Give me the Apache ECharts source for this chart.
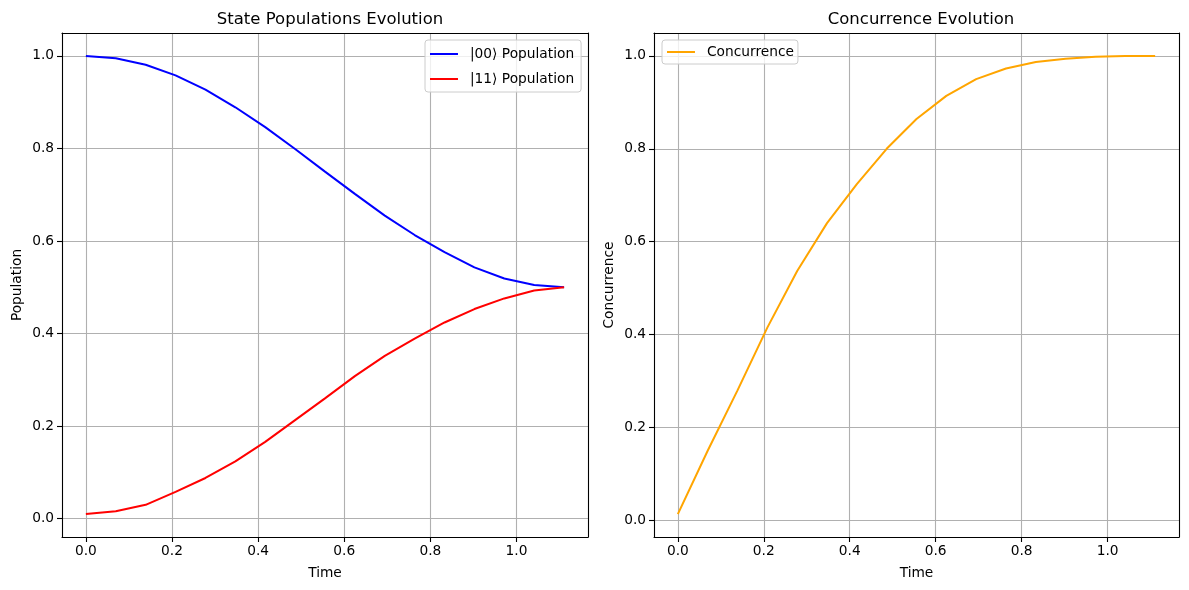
<!DOCTYPE html>
<html>
<head>
<meta charset="utf-8">
<script src="https://cdn.jsdelivr.net/npm/echarts@6/dist/echarts.min.js"></script>
<style>
html,body{margin:0;padding:0;background:#fff;}
#chart{width:1189px;height:590px;}
</style>
</head>
<body>
<div id="chart"></div>
<script>
// ---- data ----
const times = [0, 0.0694, 0.1388, 0.2082, 0.2777, 0.3471, 0.4165, 0.4859, 0.5553, 0.6247, 0.6942, 0.7636, 0.8330, 0.9024, 0.9718, 1.0412, 1.1107];
const pop00 = [1.000, 0.995, 0.981, 0.958, 0.927, 0.889, 0.846, 0.799, 0.750, 0.702, 0.655, 0.613, 0.576, 0.543, 0.519, 0.505, 0.500];
const pop11 = [0.010, 0.016, 0.030, 0.058, 0.088, 0.124, 0.166, 0.213, 0.260, 0.308, 0.352, 0.389, 0.424, 0.453, 0.476, 0.493, 0.500];
const concurrence = [0.0135, 0.150, 0.280, 0.415, 0.537, 0.640, 0.724, 0.800, 0.864, 0.914, 0.950, 0.973, 0.987, 0.994, 0.998, 1.000, 1.000];
const tickValues = [0.0, 0.2, 0.4, 0.6, 0.8, 1.0];
const tickLabels = ['0.0', '0.2', '0.4', '0.6', '0.8', '1.0'];

const FONT = 'DejaVu Sans';
const pair = (xs, ys) => xs.map((x, i) => [x, ys[i]]);
const labelFmt = v => {
  const i = tickValues.findIndex(t => Math.abs(t - v) < 1e-9);
  return i >= 0 ? tickLabels[i] : '';
};

function xAxis(idx) {
  return {
    type: 'value', gridIndex: idx, min: -0.0555, max: 1.1662,
    name: 'Time', nameLocation: 'middle', nameGap: 29,
    nameTextStyle: {fontFamily: FONT, fontSize: 13.75, color: '#000'},
    axisLine: {show: true, onZero: false, lineStyle: {color: '#000', width: 1.1}},
    axisTick: {show: true, length: 5, lineStyle: {color: '#000', width: 1.1}, customValues: tickValues},
    axisLabel: {show: true, margin: 7, fontFamily: FONT, fontSize: 13.75, color: '#000', customValues: tickValues, formatter: labelFmt},
    splitLine: {show: true, lineStyle: {color: '#b0b0b0', width: 1.1}, customValues: tickValues}
  };
}
function yAxis(idx, name, min, max) {
  return {
    type: 'value', gridIndex: idx, min: min, max: max,
    name: name, nameLocation: 'middle', nameGap: 38,
    nameTextStyle: {fontFamily: FONT, fontSize: 13.75, color: '#000'},
    axisLine: {show: true, onZero: false, lineStyle: {color: '#000', width: 1.1}},
    axisTick: {show: true, length: 5, lineStyle: {color: '#000', width: 1.1}, customValues: tickValues},
    axisLabel: {show: true, margin: 8, fontFamily: FONT, fontSize: 13.75, color: '#000', customValues: tickValues, formatter: labelFmt},
    splitLine: {show: true, lineStyle: {color: '#b0b0b0', width: 1.1}, customValues: tickValues}
  };
}
// top/right spines via second (empty) axes
function spineX(idx) {
  return {type: 'value', gridIndex: idx, position: 'top', min: 0, max: 1,
    axisLine: {show: true, onZero: false, lineStyle: {color: '#000', width: 1.1}}, axisTick: {show: false}, axisLabel: {show: false}, splitLine: {show: false}};
}
function spineY(idx) {
  return {type: 'value', gridIndex: idx, position: 'right', min: 0, max: 1,
    axisLine: {show: true, onZero: false, lineStyle: {color: '#000', width: 1.1}}, axisTick: {show: false}, axisLabel: {show: false}, splitLine: {show: false}};
}

// line-only legend icon (degenerate subpaths keep the bounding box 28x14)
const LINE_ICON = 'path://M0,0L28,0L28,0.01L0,0.01Z M0,6L28,6L28,8L0,8Z M0,14L28,14L28,14.01L0,14.01Z';

const legendCommon = {
  orient: 'vertical',
  backgroundColor: 'rgba(255,255,255,0.8)',
  borderColor: '#cccccc', borderWidth: 1, borderRadius: 3,
  itemWidth: 28, itemHeight: 14, itemGap: 11,
  icon: LINE_ICON,
  textStyle: {fontFamily: FONT, fontSize: 13.75, color: '#000', padding: [0, 0, 0, 7]}
};

const chart = echarts.init(document.getElementById('chart'), null, {renderer: 'canvas'});
chart.setOption({
  backgroundColor: '#fff',
  animation: false,
  title: [
    {text: 'State Populations Evolution', left: 325, top: 6, textAlign: 'center',
     textStyle: {fontFamily: FONT, fontSize: 16.5, fontWeight: 'normal', color: '#000'}},
    {text: 'Concurrence Evolution', left: 916, top: 6, textAlign: 'center',
     textStyle: {fontFamily: FONT, fontSize: 16.5, fontWeight: 'normal', color: '#000'}}
  ],
  grid: [
    {left: 62, top: 33, width: 526, height: 504},
    {left: 654, top: 33, width: 525, height: 504}
  ],
  xAxis: [xAxis(0), xAxis(1), spineX(0), spineX(1)],
  yAxis: [yAxis(0, 'Population', -0.0395, 1.0495), yAxis(1, 'Concurrence', -0.0358, 1.0493), spineY(0), spineY(1)],
  legend: [
    Object.assign({}, legendCommon, {left: 425, top: 40, padding: [7, 7, 6, 5],
      data: ['|00⟩ Population', '|11⟩ Population']}),
    Object.assign({}, legendCommon, {left: 662, top: 40, padding: [5, 4, 5, 5],
      data: ['Concurrence']})
  ],
  series: [
    {name: '|00⟩ Population', type: 'line', xAxisIndex: 0, yAxisIndex: 0, data: pair(times, pop00),
     showSymbol: false, symbol: 'none', lineStyle: {color: '#0000ff', width: 2}, itemStyle: {color: '#0000ff'}, z: 3},
    {name: '|11⟩ Population', type: 'line', xAxisIndex: 0, yAxisIndex: 0, data: pair(times, pop11),
     showSymbol: false, symbol: 'none', lineStyle: {color: '#ff0000', width: 2}, itemStyle: {color: '#ff0000'}, z: 3},
    {name: 'Concurrence', type: 'line', xAxisIndex: 1, yAxisIndex: 1, data: pair(times, concurrence),
     showSymbol: false, symbol: 'none', lineStyle: {color: '#ffa500', width: 2}, itemStyle: {color: '#ffa500'}, z: 3}
  ]
});
</script>
</body>
</html>
